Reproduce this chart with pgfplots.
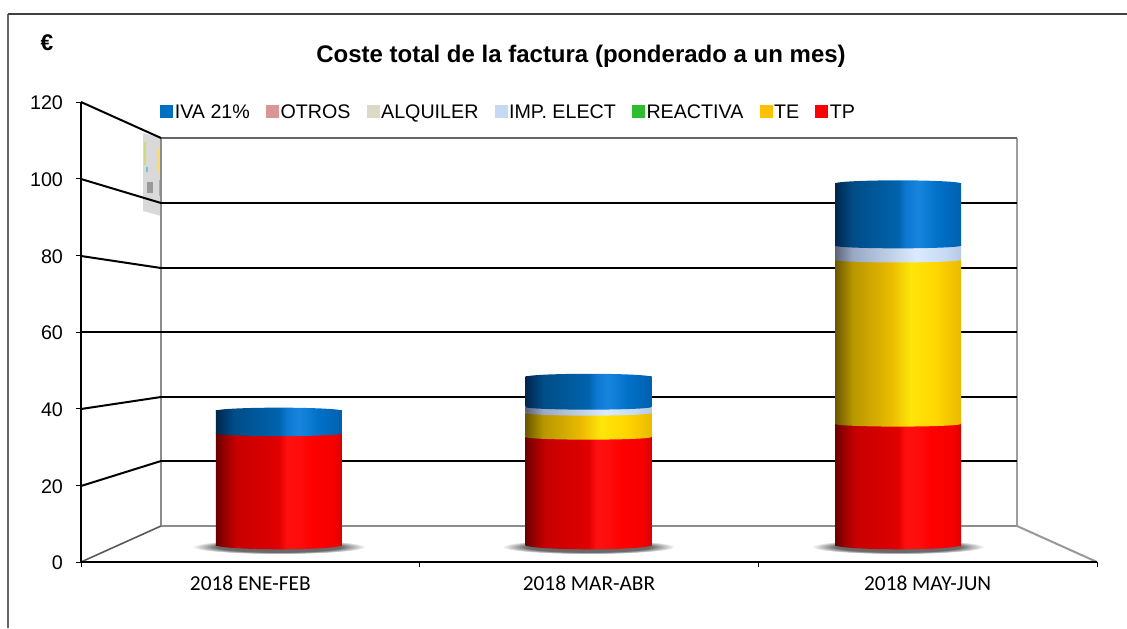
\documentclass[border=0pt]{standalone}
\usepackage{fontspec}
\usepackage{pgfplots}
\pgfplotsset{compat=1.18}
\setmainfont{Liberation Sans}
\newfontfamily\carlito{Carlito}
\pgfdeclarehorizontalshading{redcyl}{100bp}{rgb(0bp)=(0.42,0,0);rgb(25bp)=(0.42,0,0);rgb(29bp)=(0.62,0,0);rgb(33bp)=(0.78,0,0);rgb(50bp)=(0.88,0,0);rgb(53bp)=(1,0.06,0.06);rgb(58bp)=(1,0.05,0.05);rgb(63bp)=(1,0,0);rgb(72bp)=(0.96,0,0);rgb(75bp)=(0.84,0,0);rgb(100bp)=(0.84,0,0)}
\pgfdeclarehorizontalshading{bluecyl}{100bp}{rgb(0bp)=(0,0.15,0.30);rgb(25bp)=(0,0.15,0.30);rgb(32bp)=(0,0.30,0.53);rgb(50bp)=(0,0.39,0.68);rgb(53bp)=(0.05,0.47,0.82);rgb(58bp)=(0.09,0.52,0.87);rgb(66bp)=(0,0.44,0.78);rgb(75bp)=(0,0.38,0.68);rgb(100bp)=(0,0.38,0.68)}
\pgfdeclarehorizontalshading{lightcyl}{100bp}{rgb(0bp)=(0.36,0.39,0.47);rgb(25bp)=(0.36,0.39,0.47);rgb(32bp)=(0.60,0.66,0.77);rgb(50bp)=(0.78,0.85,0.93);rgb(57bp)=(0.86,0.92,1);rgb(68bp)=(0.78,0.86,0.96);rgb(75bp)=(0.72,0.79,0.89);rgb(100bp)=(0.72,0.79,0.89)}
\pgfdeclarehorizontalshading{yellowcyl}{100bp}{rgb(0bp)=(0.42,0.34,0);rgb(25bp)=(0.42,0.34,0);rgb(32bp)=(0.72,0.59,0);rgb(47bp)=(0.92,0.73,0);rgb(55bp)=(1,0.90,0.04);rgb(65bp)=(1,0.84,0);rgb(75bp)=(0.92,0.73,0);rgb(100bp)=(0.92,0.73,0)}
\pgfdeclareradialshading{shadowgray}{\pgfpointorigin}{rgb(0bp)=(0.38,0.38,0.38);rgb(18bp)=(0.42,0.42,0.42);rgb(25bp)=(1,1,1);rgb(50bp)=(1,1,1)}
% lower half of a cylinder section, seen from the front
\newcommand{\lowmark}[3]{\pgfdeclareplotmark{#1}{%
  \pgfpathmoveto{\pgfqpoint{-47.25pt}{0.5pt}}%
  \pgfpathlineto{\pgfqpoint{-47.25pt}{0pt}}%
  \pgfpatharc{180}{360}{47.25pt and #2}%
  \pgfpathlineto{\pgfqpoint{47.25pt}{0.5pt}}%
  \pgfpathclose
  \pgfshadepath{#3}{0}\pgfusepath{discard}}}
\lowmark{mred}{3.2pt}{redcyl}
\lowmark{myel}{2pt}{yellowcyl}
\lowmark{mlig}{2pt}{lightcyl}
\lowmark{mblu}{2pt}{bluecyl}
% upper half, for the lid
\pgfdeclareplotmark{mcap}{%
  \pgfpathmoveto{\pgfqpoint{47.25pt}{-0.5pt}}%
  \pgfpathlineto{\pgfqpoint{47.25pt}{0pt}}%
  \pgfpatharc{0}{180}{47.25pt and 2.4pt}%
  \pgfpathlineto{\pgfqpoint{-47.25pt}{-0.5pt}}%
  \pgfpathclose
  \pgfshadepath{bluecyl}{0}\pgfusepath{discard}}
\pgfdeclareplotmark{mshadow}{\pgfpathellipse{\pgfpointorigin}{\pgfqpoint{65pt}{0pt}}{\pgfqpoint{0pt}{5.5pt}}\pgfshadepath{shadowgray}{0}\pgfusepath{discard}}
\definecolor{cIVA}{HTML}{0070C0}
\definecolor{cOTR}{HTML}{DA9694}
\definecolor{cALQ}{HTML}{DDD9C4}
\definecolor{cIMP}{HTML}{C5D9F1}
\definecolor{cREA}{HTML}{2DBE2D}
\definecolor{cTE}{HTML}{FFC000}
\definecolor{cTP}{HTML}{FF0000}
\pgfplotsset{
  cylbase/.style={
    at={(60.75pt,-408.75pt)},anchor=south west,
    scale only axis,width=762pt,height=317.7pt,
    xmin=-0.6397,xmax=2.643,ymin=0,ymax=120,
    hide axis,clip=false,
  },
  cylaxis/.style={
    cylbase,
    bar width=94.5pt,
    ybar stacked,reverse stacked plots=false,
  },
  ell/.style={stack plots=false,sharp plot,only marks,mark=#1,forget plot},
  seg/.style={shade,shading=#1,draw=none,forget plot},
}
\begin{document}
\begin{tikzpicture}
\begin{scope}[x=0.75pt,y=-0.75pt]
\useasboundingbox (0,0) rectangle (1127,628);
\draw[color=black!60,line width=0.9pt] (8,628) -- (8,14);
\draw[color=black!75,line width=0.9pt] (8,14) -- (1127,14);
% thumbnail on the side wall
\fill[black!15] (143,133) -- (161,138) -- (161,216) -- (143,211) -- cycle;
\fill[yellow!70!teal!70] (144,142) rectangle (146,165);
\fill[yellow!60!orange!60] (158,148) rectangle (160,172);
\fill[teal!50] (146,167) rectangle (148,172);
\fill[black!40] (147,182) rectangle (153,193);
\fill[teal!50] (159,180) rectangle (160,196);
% walls
\draw[color=black!45,line width=1.5pt] (161,138) -- (161,526);
\draw[color=black!38,line width=1.5pt] (1017,138) -- (1017,526);
\draw[color=black!45,line width=1.5pt] (161,526) -- (1017,526);
\draw[color=black!40,line width=1.5pt] (1017,526) -- (1097,562);
\draw[color=black!65,line width=1.2pt] (81,562) -- (161,526);
\draw[color=black!60,line width=2pt] (161,138) -- (1017,138);
\foreach \yf/\yb in {179/203,256/268,332/332,409/397,486/461}{
  \draw[black,line width=1.5pt] (81,\yf) -- (161,\yb);
  \draw[color=black!40,line width=2.2pt] (161,\yb) -- (1017,\yb);
  \draw[black,line width=1.3pt] (161,\yb) -- (1017,\yb);
}
\draw[black,line width=1.5pt] (81,102) -- (161,138);
\node[font=\bfseries\fontsize{17}{20}\selectfont] at (47,43) {€};
\node[font=\bfseries\fontsize{18}{22}\selectfont] at (581,56.5) {Coste total de la factura (ponderado a un mes)};
\end{scope}
\begin{axis}[
  at={(60.75pt,-421.5pt)},anchor=south west,
  scale only axis,width=762pt,height=345pt,
  xmin=-0.5,xmax=2.5,ymin=0,ymax=120,
  axis lines=left,
  axis line style={black,line width=2pt,-},
  clip=false,
  xtick={-0.5,0.5,1.5,2.5},xticklabels={},
  ytick={0,20,40,60,80,100,120},
  extra x ticks={0,1,2},
  extra x tick labels={2018 ENE-FEB,2018 MAR-ABR,2018 MAY-JUN},
  extra x tick style={major tick length=0pt,
    tick label style={font=\carlito\fontsize{16}{18}\selectfont,yshift=-7pt}},
  tick style={black,line width=0.7pt},
  major tick length=4pt,
  tick align=outside,
  /pgf/number format/assume math mode=true,
  yticklabel style={font=\fontsize{14.8}{16}\selectfont,xshift=-6pt,yshift=-0.7pt},
  legend columns=7,
  legend image code/.code={\fill[#1] (0pt,-4.5pt) rectangle (9pt,4.5pt);},
  legend style={at={(0.0778,0.980)},anchor=west,draw=none,fill=none,inner sep=0pt,
    font=\fontsize{14.75}{17}\selectfont,
    nodes={text height=11pt,text depth=0pt,inner xsep=1.5pt},
    /tikz/every even column/.append style={column sep=10.6pt}},
]
\addlegendimage{cIVA}\addlegendentry{IVA 21\%}
\addlegendimage{cOTR}\addlegendentry{OTROS}
\addlegendimage{cALQ}\addlegendentry{ALQUILER}
\addlegendimage{cIMP}\addlegendentry{IMP. ELECT}
\addlegendimage{cREA}\addlegendentry{REACTIVA}
\addlegendimage{cTE}\addlegendentry{TE}
\addlegendimage{cTP}\addlegendentry{TP}
\end{axis}
% floor shadows, under everything else
\begin{axis}[cylbase]
\addplot[only marks,mark=mshadow,forget plot] coordinates {(0,-0.5) (1,-0.5) (2,-0.5)};
\end{axis}
% 2018 ENE-FEB: TP 31.6, IVA 6.4
\begin{axis}[cylaxis]
\addplot[ell=mred] coordinates {(0,0)};
\addplot[seg=redcyl] coordinates {(0,31.6)};
\addplot[ell=mblu] coordinates {(0,31.6)};
\addplot[seg=bluecyl] coordinates {(0,6.4)};
\addplot[ell=mcap] coordinates {(0,38.0)};
\end{axis}
% 2018 MAR-ABR: TP 30.6, TE 6.8, IMP 1.7, IVA 8.5
\begin{axis}[cylaxis]
\addplot[ell=mred] coordinates {(1,0)};
\addplot[seg=redcyl] coordinates {(1,30.6)};
\addplot[ell=myel] coordinates {(1,30.6)};
\addplot[seg=yellowcyl] coordinates {(1,6.8)};
\addplot[ell=mlig] coordinates {(1,37.4)};
\addplot[seg=lightcyl] coordinates {(1,1.7)};
\addplot[ell=mblu] coordinates {(1,39.1)};
\addplot[seg=bluecyl] coordinates {(1,8.5)};
\addplot[ell=mcap] coordinates {(1,47.6)};
\end{axis}
% 2018 MAY-JUN: TP 34.3, TE 46.5, IMP 4.0, IVA 17.6
\begin{axis}[cylaxis]
\addplot[ell=mred] coordinates {(2,0)};
\addplot[seg=redcyl] coordinates {(2,34.3)};
\addplot[ell=myel] coordinates {(2,34.3)};
\addplot[seg=yellowcyl] coordinates {(2,46.5)};
\addplot[ell=mlig] coordinates {(2,80.8)};
\addplot[seg=lightcyl] coordinates {(2,4.0)};
\addplot[ell=mblu] coordinates {(2,84.8)};
\addplot[seg=bluecyl] coordinates {(2,17.6)};
\addplot[ell=mcap] coordinates {(2,102.4)};
\end{axis}
\end{tikzpicture}
\end{document}
